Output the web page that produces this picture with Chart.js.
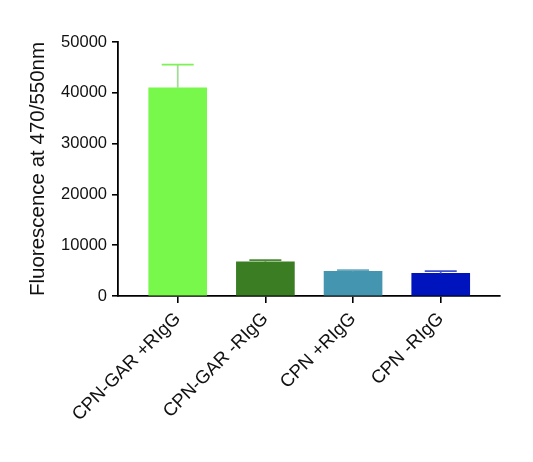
<!DOCTYPE html>
<html>
<head>
<meta charset="utf-8">
<script src="https://cdn.jsdelivr.net/npm/chart.js@4"></script>
<style>
html,body{margin:0;padding:0;background:#fff;}
#wrap{width:533px;height:462px;position:relative;}
</style>
</head>
<body>
<div id="wrap"><canvas id="c" width="533" height="462"></canvas></div>
<script>
const categories = ["CPN-GAR +RIgG", "CPN-GAR -RIgG", "CPN +RIgG", "CPN -RIgG"];
const values = [41000, 6750, 4850, 4460];
const errors = [4550, 330, 260, 440];
const barColors = ["#77F84B", "#3A7D22", "#4496B0", "#0014BE"];
const stemColors = ["#A4D99A", "#5E9650", "#7FB4C8", "#5A68D0"];
const capColors = ["#7CF254", "#4A8A34", "#6AA8BE", "#4050C8"];
const yTicks = [0, 10000, 20000, 30000, 40000, 50000];
const yTitle = "Fluorescence at 470/550nm";

const FONT = "'Liberation Sans', Arial, Helvetica, sans-serif";

const errorBars = {
  id: 'errorBars',
  afterDatasetsDraw(chart) {
    const xs = chart.scales.x, ys = chart.scales.y, ctx = chart.ctx;
    ctx.save();
    ctx.lineWidth = 1.8;
    values.forEach((v, i) => {
      const x = xs.getPixelForValue(i);
      const y0 = ys.getPixelForValue(v);
      const y1 = ys.getPixelForValue(v + errors[i]);
      ctx.strokeStyle = stemColors[i];
      ctx.beginPath();
      ctx.moveTo(x, y0);
      ctx.lineTo(x, y1);
      ctx.stroke();
      ctx.strokeStyle = capColors[i];
      ctx.beginPath();
      ctx.moveTo(x - 16, y1);
      ctx.lineTo(x + 16, y1);
      ctx.stroke();
    });
    ctx.restore();
  }
};

new Chart(document.getElementById('c'), {
  type: 'bar',
  data: {
    datasets: [{
      data: categories.map((c, i) => ({ x: i, y: values[i] })),
      backgroundColor: barColors,
      borderWidth: 0,
      barThickness: 58
    }]
  },
  options: {
    responsive: false,
    animation: false,
    events: [],
    plugins: { legend: { display: false }, tooltip: { enabled: false } },
    layout: { padding: { top: 42, right: 33, left: 0, bottom: 0 } },
    scales: {
      x: {
        type: 'linear',
        offset: false,
        min: -0.681,
        max: 3.676,
        afterBuildTicks(s) { s.ticks = categories.map((c, i) => ({ value: i })); },
        afterFit(s) { s.height = 166; },
        grid: { offset: false, drawOnChartArea: false, drawTicks: true, tickLength: 7, color: '#000', lineWidth: 1.6 },
        border: { display: true, color: '#000', width: 1.8 },
        ticks: {
          autoSkip: false,
          minRotation: 45,
          maxRotation: 45,
          padding: 5,
          color: '#111',
          font: { family: FONT, size: 18.5 },
          callback: (v) => categories[v]
        }
      },
      y: {
        min: 0,
        max: 50000,
        afterBuildTicks(s) { s.ticks = yTicks.map(v => ({ value: v })); },
        afterFit(s) { s.width = 118; },
        grid: { drawOnChartArea: false, drawTicks: true, tickLength: 6, color: '#000', lineWidth: 1.6 },
        border: { display: true, color: '#000', width: 1.8 },
        ticks: {
          padding: 5,
          color: '#111',
          font: { family: FONT, size: 16.5 },
          callback: (v) => String(v)
        },
        title: {
          display: true,
          text: yTitle,
          color: '#111',
          font: { family: FONT, size: 20.5 },
          padding: { top: 26, bottom: 4 }
        }
      }
    }
  },
  plugins: [errorBars]
});
</script>
</body>
</html>
